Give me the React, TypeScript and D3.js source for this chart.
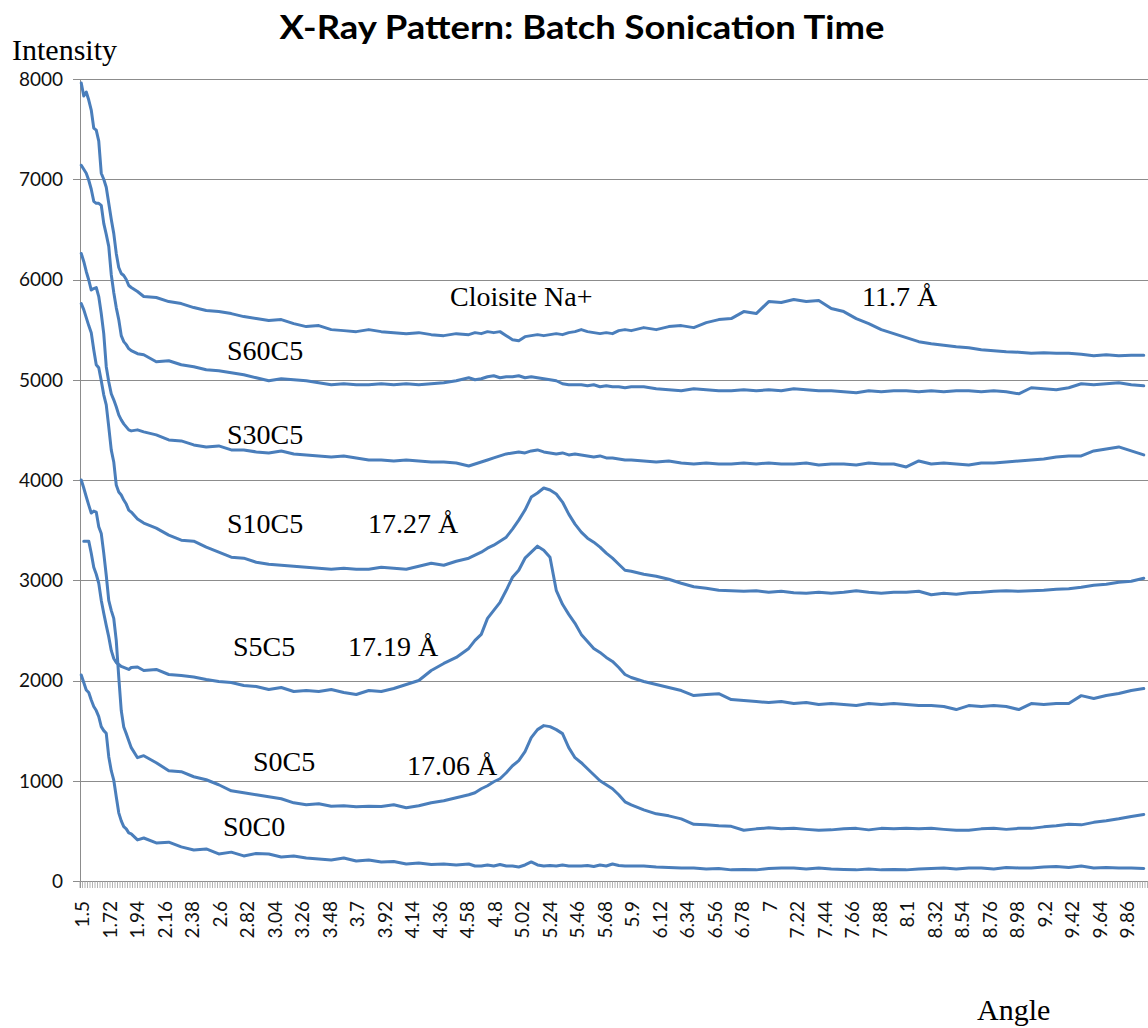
import React from "react";
import * as d3 from "d3";

// ---------- data ----------
const angles = [
  1.5, 1.52, 1.54, 1.56, 1.58, 1.6, 1.62, 1.64, 1.66, 1.68, 1.7, 1.72, 1.74, 1.76, 1.78, 1.8, 1.82, 1.84, 1.86, 1.88, 1.9,
  1.95, 2.0,
  2.1, 2.2, 2.3, 2.4, 2.5, 2.6, 2.7, 2.8, 2.9, 3.0, 3.1, 3.2, 3.3, 3.4, 3.5, 3.6, 3.7, 3.8, 3.9, 4.0, 4.1, 4.2, 4.3, 4.4, 4.5, 4.6,
  4.65, 4.7, 4.75, 4.8, 4.85, 4.9, 4.95, 5.0, 5.05, 5.1, 5.15, 5.2, 5.25, 5.3, 5.35, 5.4, 5.45, 5.5, 5.55, 5.6, 5.65, 5.7, 5.75, 5.8, 5.85,
  5.9, 6.0, 6.1, 6.2, 6.3, 6.4, 6.5, 6.6, 6.7, 6.8, 6.9, 7.0, 7.1, 7.2, 7.3, 7.4, 7.5, 7.6, 7.7, 7.8, 7.9, 8.0, 8.1, 8.2, 8.3, 8.4, 8.5, 8.6, 8.7, 8.8, 8.9, 9.0, 9.1, 9.2, 9.3, 9.4, 9.5, 9.6, 9.7, 9.8, 9.9, 10.0,
];

const cloisite = [
  7960, 7830, 7870, 7790, 7690, 7510, 7490, 7380, 7060, 7000, 6920, 6760, 6600, 6460, 6260, 6120, 6060, 6040, 6000, 5940, 5920,
  5880, 5830,
  5820, 5780, 5760, 5720, 5690, 5680, 5660, 5630, 5610, 5590, 5600, 5560, 5530, 5540, 5500, 5490, 5480, 5500, 5480, 5470, 5460, 5470, 5450, 5440, 5460, 5450,
  5470, 5460, 5480, 5470, 5480, 5440, 5400, 5390, 5430, 5440, 5450, 5440, 5450, 5460, 5450, 5470, 5480, 5500, 5480, 5470, 5460, 5470, 5460, 5490, 5500,
  5490, 5520, 5500, 5530, 5540, 5520, 5570, 5600, 5610, 5680, 5660, 5780, 5770, 5800, 5780, 5790, 5710, 5680, 5610, 5560, 5500, 5460, 5420, 5380, 5360, 5345, 5330, 5320, 5300, 5290, 5280, 5275, 5265, 5270, 5265, 5265, 5255, 5240, 5250, 5240, 5245, 5245,
];

const s60c5 = [
  7140, 7100, 7060, 6990, 6900, 6780, 6760, 6760, 6740, 6560, 6450, 6330, 6050, 5870, 5720, 5600, 5440, 5380, 5350, 5310, 5290,
  5260, 5250,
  5180, 5190, 5150, 5130, 5100, 5090, 5070, 5050, 5020, 4990, 5010, 5000, 4990, 4970, 4950, 4960, 4950, 4950, 4960, 4950, 4960, 4950, 4960, 4970, 4990, 5020,
  5000, 5010, 5030, 5040, 5020, 5030, 5030, 5040, 5020, 5030, 5020, 5010, 5000, 4990, 4960, 4950, 4950, 4950, 4940, 4950, 4930, 4940, 4930, 4930, 4920,
  4930, 4930, 4910, 4900, 4890, 4910, 4900, 4890, 4890, 4900, 4890, 4900, 4890, 4910, 4900, 4890, 4890, 4880, 4870, 4890, 4880, 4890, 4890, 4880, 4890, 4880, 4890, 4890, 4880, 4890, 4880, 4860, 4920, 4910, 4900, 4920, 4960, 4950, 4960, 4970, 4950, 4940,
];

const s30c5 = [
  6260, 6180, 6080, 5995, 5895, 5910, 5920, 5830, 5660, 5460, 5130, 4980, 4860, 4800, 4730, 4650, 4600, 4560, 4530, 4500, 4490,
  4500, 4480,
  4450, 4400, 4390, 4350, 4330, 4340, 4300, 4300, 4280, 4270, 4290, 4260, 4250, 4240, 4230, 4240, 4220, 4200, 4200, 4190, 4200, 4190, 4180, 4180, 4170, 4140,
  4160, 4180, 4200, 4220, 4240, 4260, 4270, 4280, 4270, 4290, 4300, 4280, 4270, 4260, 4270, 4250, 4260, 4250, 4240, 4230, 4240, 4220, 4220, 4210, 4200,
  4200, 4190, 4180, 4190, 4170, 4160, 4170, 4160, 4160, 4170, 4160, 4170, 4160, 4160, 4170, 4150, 4160, 4160, 4150, 4170, 4160, 4160, 4130, 4190, 4160, 4170, 4160, 4150, 4170, 4170, 4180, 4190, 4200, 4210, 4230, 4240, 4240, 4290, 4310, 4330, 4290, 4250,
];

const s10c5 = [
  5760, 5700, 5620, 5540, 5470, 5300, 5150, 5120, 4990, 4850, 4750, 4530, 4300, 4180, 3950, 3880, 3850, 3800, 3760, 3700, 3680,
  3610, 3570,
  3520, 3450, 3400, 3390, 3330, 3280, 3230, 3220, 3180, 3160, 3150, 3140, 3130, 3120, 3110, 3120, 3110, 3110, 3130, 3120, 3110, 3140, 3170, 3150, 3190, 3220,
  3250, 3280, 3320, 3350, 3390, 3430, 3510, 3600, 3700, 3830, 3870, 3920, 3900, 3860, 3780, 3660, 3560, 3480, 3420, 3380, 3330, 3270, 3220, 3160, 3100,
  3090, 3060, 3040, 3010, 2970, 2935, 2920, 2900, 2895, 2890, 2895, 2880, 2890, 2876, 2870, 2880, 2870, 2880, 2895, 2880, 2870, 2880, 2880, 2890, 2856, 2870, 2860, 2876, 2880, 2890, 2895, 2890, 2895, 2900, 2910, 2915, 2930, 2950, 2960, 2980, 2990, 3020,
];

const s5c5 = [
  null, 3390, 3390, 3390, 3270, 3130, 3060, 2970, 2800, 2670, 2550, 2435, 2300, 2220, 2180, 2160, 2140, 2130, 2120, 2110, 2130,
  2135, 2100,
  2110, 2060, 2050, 2035, 2010, 1990, 1980, 1950, 1940, 1910, 1930, 1890, 1900, 1890, 1910, 1880, 1860, 1900, 1890, 1920, 1960, 2000, 2100, 2170, 2230, 2320,
  2400, 2460, 2620, 2700, 2780, 2900, 3030, 3100, 3220, 3280, 3340, 3300, 3230, 2900, 2760, 2660, 2570, 2460, 2390, 2320, 2280, 2230, 2190, 2130, 2060,
  2030, 1990, 1960, 1930, 1900, 1850, 1860, 1868, 1810, 1800, 1790, 1780, 1790, 1770, 1780, 1760, 1770, 1760, 1750, 1770, 1760, 1770, 1760, 1750, 1750, 1740, 1710, 1750, 1740, 1750, 1740, 1710, 1770, 1760, 1770, 1770, 1849, 1820, 1850, 1870, 1900, 1920,
];

const s0c5 = [
  4000, 3920, 3833, 3750, 3670, 3690, 3680, 3534, 3467, 3270, 3050, 2800, 2700, 2620, 2400, 2035, 1700, 1536, 1470, 1400, 1330,
  1230, 1250,
  1180, 1100, 1090, 1040, 1010, 960, 900, 880, 860, 840, 820, 780, 760, 770, 745, 750, 740, 745, 743, 760, 730, 750, 780, 800, 830, 860,
  880, 920, 950, 990, 1020, 1080, 1150, 1200, 1290, 1430, 1510, 1550, 1540, 1510, 1470, 1330, 1230, 1180, 1120, 1060, 1000, 960, 920, 860, 790,
  760, 710, 670, 650, 620, 565, 560, 550, 545, 506, 520, 530, 520, 525, 515, 506, 510, 520, 525, 510, 525, 520, 525, 520, 525, 515, 506, 506, 520, 525, 515, 525, 525, 540, 550, 565, 560, 585, 600, 620, 644, 664,
];

const s0c0 = [
  2055, 1980, 1905, 1880, 1805, 1740, 1700, 1640, 1540, 1500, 1473, 1240, 1100, 1007, 841, 680, 600, 542, 520, 480, 470,
  410, 429,
  380, 387, 340, 310, 320, 270, 288, 250, 275, 269, 240, 249, 230, 220, 209, 230, 200, 209, 190, 195, 170, 180, 165, 170, 160, 170,
  150, 150, 160, 150, 165, 150, 150, 140, 160, 190, 160, 150, 155, 150, 160, 150, 150, 150, 155, 145, 160, 150, 170, 155, 150,
  150, 150, 140, 135, 130, 130, 120, 125, 111, 115, 111, 125, 130, 130, 120, 130, 120, 115, 111, 120, 111, 115, 111, 120, 125, 130, 120, 130, 130, 120, 135, 130, 130, 140, 145, 135, 150, 130, 135, 130, 130, 125,
];

const seriesList = [cloisite, s60c5, s30c5, s10c5, s5c5, s0c5, s0c0];

const xTickLabels = [
  "1.5", "1.72", "1.94", "2.16", "2.38", "2.6", "2.82", "3.04", "3.26", "3.48", "3.7", "3.92", "4.14", "4.36",
  "4.58", "4.8", "5.02", "5.24", "5.46", "5.68", "5.9", "6.12", "6.34", "6.56", "6.78", "7", "7.22", "7.44",
  "7.66", "7.88", "8.1", "8.32", "8.54", "8.76", "8.98", "9.2", "9.42", "9.64", "9.86",
];
const yTicks = [0, 1000, 2000, 3000, 4000, 5000, 6000, 7000, 8000];

const labelTexts = ["Cloisite Na+", "11.7 Å", "S60C5", "S30C5", "S10C5", "S5C5", "S0C5", "S0C0", "17.27 Å", "17.19 Å", "17.06 Å"];
const labelAngles = [4.45, 7.746, 2.666, 2.666, 2.666, 2.714, 2.874, 2.634, 3.794, 3.634, 4.106];
const labelValues = [5736, 5736, 5197, 4359, 3471, 2244, 1097, 449, 3471, 2244, 1057];

const title = "X-Ray Pattern: Batch Sonication Time";
const yTitle = "Intensity";
const xTitle = "Angle";

// ---------- chart ----------
const W = 1148;
const H = 1028;
const plotLeft = 80;
const bandW = 2.5;
const nCats = 430;
const catStep = 0.02;
const firstAngle = 1.5;

export default function App() {
  const band = d3
    .scaleBand<number>()
    .domain(d3.range(nCats))
    .range([plotLeft, plotLeft + nCats * bandW])
    .paddingInner(0)
    .paddingOuter(0);
  const firstCenter = (band(0) as number) + band.bandwidth() / 2;
  const lastCenter = (band(nCats - 1) as number) + band.bandwidth() / 2;
  const x = d3
    .scaleLinear()
    .domain([firstAngle, firstAngle + catStep * (nCats - 1)])
    .range([firstCenter, lastCenter]);
  const y = d3.scaleLinear().domain([0, 8000]).range([881, 79]);
  const plotRight = plotLeft + nCats * bandW;

  const line = d3
    .line<number | null>()
    .defined((d) => d !== null)
    .x((_, i) => x(angles[i]))
    .y((d) => y(d as number));

  const gridColor = "#8c8c8c";
  const lineColor = "#4a7ebb";
  const tickFont = "Lato, 'Open Sans', sans-serif";
  const serif = "'Liberation Serif', 'Times New Roman', serif";

  return (
    <svg
      width={W}
      height={H}
      style={{ position: "absolute", left: 0, top: 0, background: "#fff" }}
    >
      <rect x={0} y={0} width={W} height={H} fill="#fff" />
      {/* gridlines */}
      {yTicks.map((t) => (
        <line
          key={"g" + t}
          x1={plotLeft - 7}
          x2={plotRight}
          y1={Math.round(y(t)) + 0.5}
          y2={Math.round(y(t)) + 0.5}
          stroke={gridColor}
          strokeWidth={1}
        />
      ))}
      {/* y axis */}
      <line x1={plotLeft + 0.5} x2={plotLeft + 0.5} y1={y(8000)} y2={y(0) + 7} stroke={gridColor} strokeWidth={1} />
      {/* x category ticks */}
      {d3.range(nCats + 1).map((i) => {
        const px = plotLeft + i * bandW;
        return (
          <line key={"t" + i} x1={px} x2={px} y1={y(0)} y2={y(0) + 7} stroke="#a0a0a0" strokeWidth={0.8} />
        );
      })}
      {/* y tick labels */}
      {yTicks.map((t) => (
        <text
          key={"yl" + t}
          x={63}
          y={y(t)}
          dy="0.36em"
          textAnchor="end"
          fontFamily={tickFont}
          fontSize={19}
          fill="#111"
        >
          {t}
        </text>
      ))}
      {/* x tick labels */}
      {xTickLabels.map((lab, i) => {
        const idx = i * 11;
        const cx = (band(idx) as number) + band.bandwidth() / 2;
        return (
          <text
            key={"xl" + i}
            transform={`translate(${cx + 1},${901}) rotate(-90)`}
            dy="0.36em"
            textAnchor="end"
            fontFamily={tickFont}
            fontSize={19}
            fill="#111"
          >
            {lab}
          </text>
        );
      })}
      {/* series */}
      <g>
        {seriesList.map((s, i) => (
          <path
            key={"s" + i}
            d={line(s) || ""}
            fill="none"
            stroke={lineColor}
            strokeWidth={3}
            strokeLinejoin="round"
            strokeLinecap="round"
          />
        ))}
      </g>
      {/* annotations */}
      {labelTexts.map((t, i) => (
        <text
          key={"a" + i}
          x={x(labelAngles[i])}
          y={y(labelValues[i])}
          fontFamily={serif}
          fontSize={28}
          fill="#000"
        >
          {t}
        </text>
      ))}
      {/* titles */}
      <text
        x={582}
        y={39}
        textAnchor="middle"
        fontFamily="Lato, 'Liberation Sans', sans-serif"
        fontWeight="bold"
        fontSize={33}
        textLength={605}
        lengthAdjust="spacingAndGlyphs"
        fill="#000"
      >
        {title}
      </text>
      <text x={12} y={60} fontFamily={serif} fontSize={30} fill="#000">
        {yTitle}
      </text>
      <text x={977} y={1020} fontFamily={serif} fontSize={30} fill="#000">
        {xTitle}
      </text>
    </svg>
  );
}
